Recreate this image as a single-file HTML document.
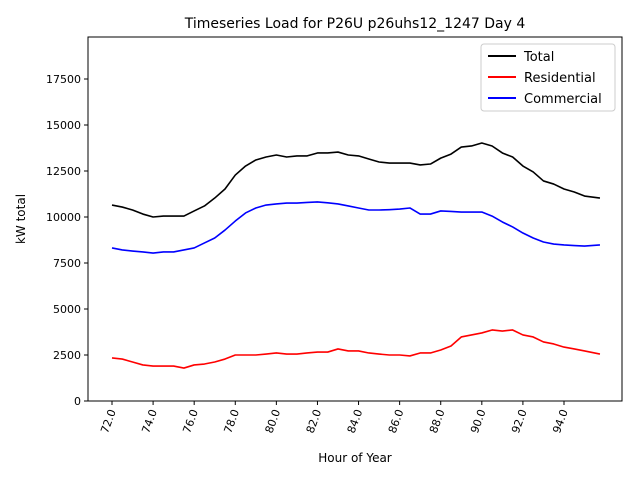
<!DOCTYPE html>
<html><head><meta charset="utf-8"><style>
body{margin:0;background:#fff;}
svg{font-family:"DejaVu Sans","Liberation Sans",sans-serif;}
</style></head><body>
<svg id="chart" width="640" height="480">
<rect width="640" height="480" fill="#fff"/>
<text x="355" y="28" font-size="14" text-anchor="middle">Timeseries Load for P26U p26uhs12_1247  Day 4</text>
<g id="axes"></g>
<g id="lines"></g>
<rect x="88" y="37" width="534" height="364" fill="none" stroke="#000" stroke-width="1"/>
<text x="355" y="462" font-size="12" text-anchor="middle">Hour of Year</text>
<text transform="translate(25,219) rotate(-90)" font-size="12" text-anchor="middle">kW total</text>
<g>
<rect x="481" y="44" width="134" height="67" fill="#fff" stroke="#ccc" rx="3"/>
<line x1="488" y1="56" x2="516" y2="56" stroke="#000" stroke-width="2"/>
<text x="524" y="61" font-size="13">Total</text>
<line x1="488" y1="77" x2="516" y2="77" stroke="red" stroke-width="2"/>
<text x="524" y="82" font-size="13">Residential</text>
<line x1="488" y1="98" x2="516" y2="98" stroke="blue" stroke-width="2"/>
<text x="524" y="103" font-size="13">Commercial</text>
</g>
</svg>
<script>
const hours=[72,72.5,73,73.5,74,74.5,75,75.5,76,76.5,77,77.5,78,78.5,79,79.5,80,80.5,81,81.5,82,82.5,83,83.5,84,84.5,85,85.5,86,86.5,87,87.5,88,88.5,89,89.5,90,90.5,91,91.5,92,92.5,93,93.5,94,94.5,95,95.75];
const total=[10650,10540,10380,10160,10000,10050,10050,10050,10330,10600,11030,11520,12280,12770,13100,13260,13370,13260,13320,13320,13480,13480,13530,13370,13320,13150,12990,12930,12930,12930,12830,12880,13200,13420,13800,13860,14020,13860,13480,13260,12770,12450,11960,11790,11520,11360,11140,11030];
const commercial=[8320,8210,8150,8100,8040,8100,8100,8210,8320,8590,8860,9290,9780,10220,10490,10650,10710,10760,10760,10790,10820,10770,10710,10600,10490,10380,10380,10400,10430,10490,10160,10160,10330,10300,10270,10270,10270,10050,9730,9460,9130,8860,8640,8530,8480,8450,8420,8480];
const residential=[2340,2280,2120,1960,1900,1900,1900,1790,1960,2010,2120,2280,2500,2500,2500,2550,2610,2550,2550,2610,2660,2660,2830,2720,2720,2610,2550,2500,2500,2450,2610,2610,2770,2990,3480,3590,3700,3860,3800,3860,3590,3480,3210,3100,2930,2830,2720,2550];
const xTicks=[72,74,76,78,80,82,84,86,88,90,92,94];
const yTicks=[0,2500,5000,7500,10000,12500,15000,17500];
const X=h=>112+(h-72)*(452/22);
const Y=v=>401-v*(46/2500);
const ns="http://www.w3.org/2000/svg";
const axes=document.getElementById('axes'),lines=document.getElementById('lines');
function mk(t,a,p){const e=document.createElementNS(ns,t);for(const k in a)e.setAttribute(k,a[k]);p.appendChild(e);return e;}
xTicks.forEach(t=>{
 const x=X(t);
 const l=mk('line',{x1:x,x2:x,y1:401,y2:405,stroke:'#000'},axes);
 
 
 const tx=mk('text',{'font-size':11,'text-anchor':'end',transform:`translate(${x+4},411) rotate(-70)`},axes);
 tx.textContent=t.toFixed(1);
 
 
});
yTicks.forEach(t=>{
 const y=Y(t);
 const l=mk('line',{x1:84,x2:88,y1:y,y2:y,stroke:'#000'},axes);
 
 
 const tx=mk('text',{x:81,y:y+4,'font-size':11,'text-anchor':'end'},axes);
 tx.textContent=t;
 
 
});
[[total,'#000','total-line'],[residential,'red','residential-line'],[commercial,'blue','commercial-line']].forEach(([d,c,n])=>{
 const p=mk('polyline',{points:d.map((v,i)=>X(hours[i])+','+Y(v)).join(' '),fill:'none',stroke:c,'stroke-width':1.6,'stroke-linejoin':'round'},lines);
 
 
});
</script>
</body></html>
